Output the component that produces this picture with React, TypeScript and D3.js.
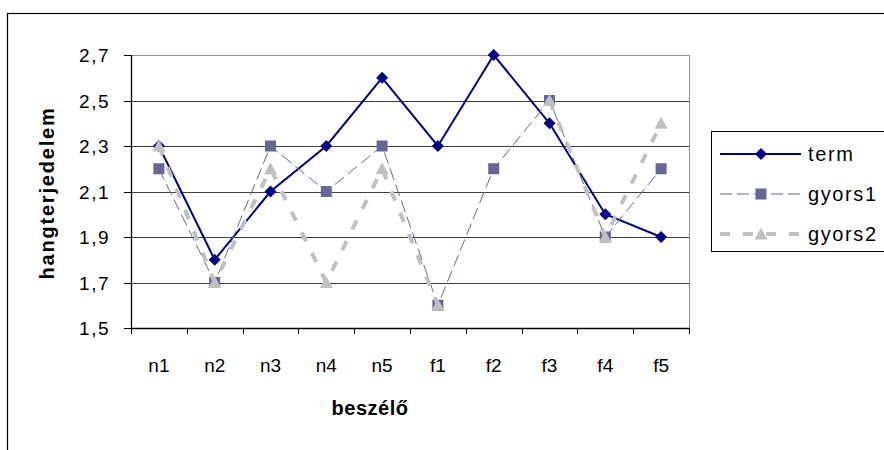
import React from "react";
import * as d3 from "d3";

const categories = ["n1", "n2", "n3", "n4", "n5", "f1", "f2", "f3", "f4", "f5"];
const term = [2.3, 1.8, 2.1, 2.3, 2.6, 2.3, 2.7, 2.4, 2.0, 1.9];
const gyors1 = [2.2, 1.7, 2.3, 2.1, 2.3, 1.6, 2.2, 2.5, 1.9, 2.2];
const gyors2: (number | null)[] = [2.3, 1.7, 2.2, 1.7, 2.2, 1.6, null, 2.5, 1.9, 2.4];
const yTicks = [1.5, 1.7, 1.9, 2.1, 2.3, 2.5, 2.7];
const seriesNames = ["term", "gyors1", "gyors2"];

const W = 884;
const H = 450;
const L = 131;
const R = 689;
const T = 55;
const B = 328;

const styles = [
  { color: "#000080", width: 2, dash: "none", marker: "diamond", mcolor: "#000080" },
  { color: "#666699", width: 1, dash: "12,5", marker: "square", mcolor: "#666699" },
  { color: "#C0C0C0", width: 4, dash: "10,13", marker: "triangle", mcolor: "#C0C0C0" },
];

function Marker({ type, x, y, fill }: { type: string; x: number; y: number; fill: string }) {
  if (type === "diamond") {
    const s = 6;
    return <path d={`M${x},${y - s}L${x + s},${y}L${x},${y + s}L${x - s},${y}Z`} fill={fill} />;
  }
  if (type === "square") {
    const s = 5.5;
    return <rect x={x - s} y={y - s} width={2 * s} height={2 * s} fill={fill} />;
  }
  const s = 6.5;
  return <path d={`M${x},${y - s}L${x + s},${y + s - 1}L${x - s},${y + s - 1}Z`} fill={fill} />;
}

export default function App() {
  const x = d3.scaleBand<string>().domain(categories).range([L, R]).padding(0);
  const y = d3.scaleLinear().domain([1.5, 2.7]).range([B, T]);
  const cx = (c: string) => (x(c) as number) + x.bandwidth() / 2;
  const data = [term, gyors1, gyors2];
  const line = d3
    .line<number | null>()
    .defined((d) => d !== null)
    .x((_, i) => cx(categories[i]))
    .y((d) => y(d as number));

  const font = "Arial, 'Liberation Sans', sans-serif";
  const legendRows = [154, 194, 234];

  return (
    <svg
      width={W}
      height={H}
      style={{ position: "absolute", left: 0, top: 0, background: "#fff" }}
      fontFamily={font}
    >
      <rect x={0} y={0} width={W} height={H} fill="#fff" />
      {/* chart area border */}
      <rect x={7.5} y={13.5} width={W + 20} height={H + 20} fill="none" stroke="#000" strokeWidth={1.2} />

      {/* gridlines */}
      {yTicks.slice(1, -1).map((t) => (
        <line
          key={t}
          x1={L}
          x2={R}
          y1={Math.round(y(t)) + 0.5}
          y2={Math.round(y(t)) + 0.5}
          stroke="#404040"
          strokeWidth={1}
        />
      ))}
      {/* plot area border top/right */}
      <line x1={L} x2={R} y1={T + 0.5} y2={T + 0.5} stroke="#909090" strokeWidth={1} />
      <line x1={R + 0.5} x2={R + 0.5} y1={T} y2={B} stroke="#909090" strokeWidth={1} />

      {/* y axis */}
      <line x1={L + 0.5} x2={L + 0.5} y1={T} y2={B + 0.5} stroke="#000" strokeWidth={1.3} />
      {yTicks.map((t) => (
        <g key={t}>
          <line x1={L - 7} x2={L} y1={Math.round(y(t)) + 0.5} y2={Math.round(y(t)) + 0.5} stroke="#000" strokeWidth={1} />
          <text
            x={110}
            y={y(t) + 7}
            textAnchor="end"
            fontSize={19}
            letterSpacing={1.5}
            fill="#000"
          >
            {t.toFixed(1).replace(".", ",")}
          </text>
        </g>
      ))}

      {/* x axis */}
      <line x1={L} x2={R + 1} y1={B + 0.5} y2={B + 0.5} stroke="#000" strokeWidth={1.3} />
      {categories.map((c, i) => (
        <line
          key={"t" + c}
          x1={Math.round(x(c) as number) + 0.5}
          x2={Math.round(x(c) as number) + 0.5}
          y1={B}
          y2={B + 6}
          stroke="#000"
          strokeWidth={1}
        />
      ))}
      <line x1={R + 0.5} x2={R + 0.5} y1={B} y2={B + 6} stroke="#000" strokeWidth={1} />
      {categories.map((c) => (
        <text key={"l" + c} x={cx(c)} y={372} textAnchor="middle" fontSize={19} fill="#000">
          {c}
        </text>
      ))}

      {/* axis titles */}
      <text x={370} y={415} textAnchor="middle" fontSize={20} fontWeight="bold" letterSpacing={0.5} fill="#000">
        beszélő
      </text>
      <text
        transform="translate(54,193) rotate(-90)"
        textAnchor="middle"
        fontSize={20}
        fontWeight="bold"
        letterSpacing={1.8}
        fill="#000"
      >
        hangterjedelem
      </text>

      {/* series */}
      {data.map((vals, si) => (
        <g key={si}>
          <path
            d={line(vals as (number | null)[]) || ""}
            fill="none"
            stroke={styles[si].color}
            strokeWidth={styles[si].width}
            strokeDasharray={styles[si].dash}
          />
          {(vals as (number | null)[]).map((v, i) =>
            v === null ? null : (
              <Marker key={i} type={styles[si].marker} x={cx(categories[i])} y={y(v)} fill={styles[si].mcolor} />
            )
          )}
        </g>
      ))}

      {/* legend */}
      <rect x={711.5} y={131.5} width={200} height={120} fill="#fff" stroke="#000" strokeWidth={1} />
      {seriesNames.map((n, i) => (
        <g key={n}>
          <line
            x1={720}
            x2={801}
            y1={legendRows[i]}
            y2={legendRows[i]}
            stroke={styles[i].color}
            strokeWidth={styles[i].width}
            strokeDasharray={styles[i].dash}
          />
          <Marker type={styles[i].marker} x={761} y={legendRows[i]} fill={styles[i].mcolor} />
          <text x={808} y={legendRows[i] + 6.5} fontSize={20} letterSpacing={1.6} fill="#000">
            {n}
          </text>
        </g>
      ))}
    </svg>
  );
}
